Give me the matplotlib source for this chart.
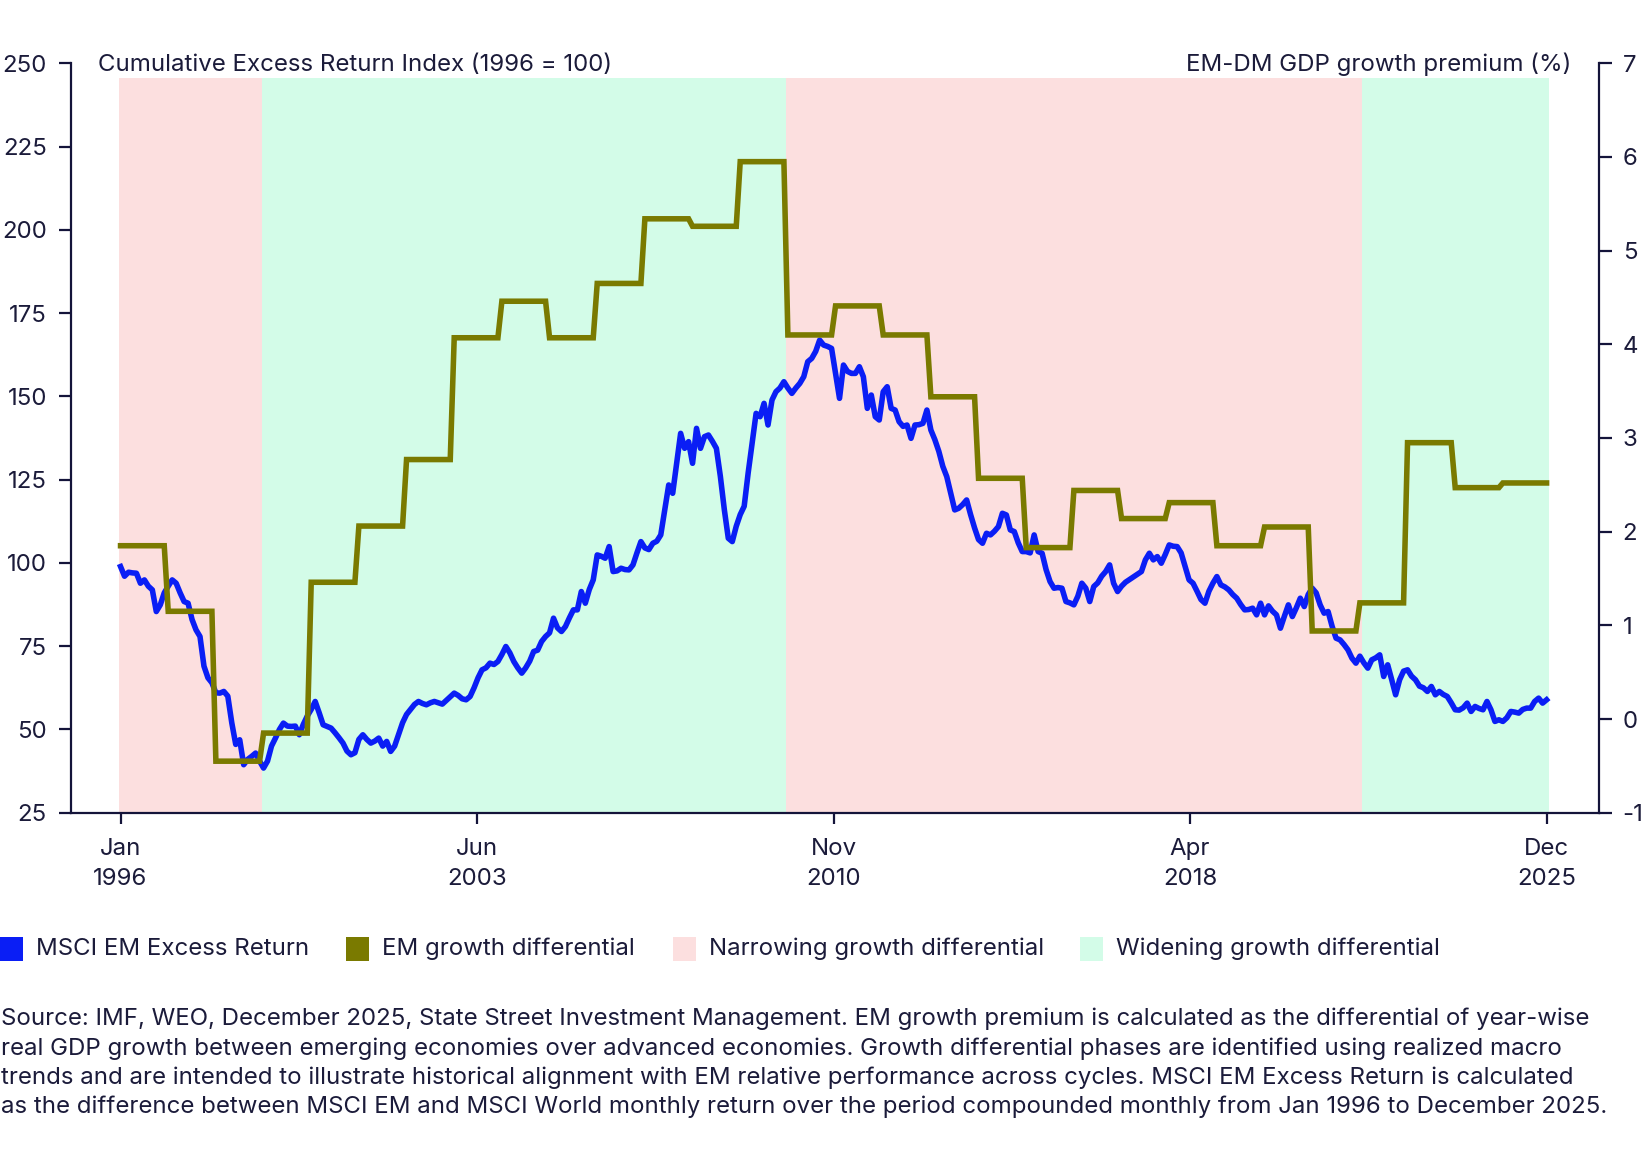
import numpy as np
import matplotlib
matplotlib.use("Agg")
import matplotlib.pyplot as plt
from matplotlib.patches import Rectangle

plt.rcParams['font.family'] = ['Inter', 'DejaVu Sans']
plt.rcParams['axes.unicode_minus'] = False

# ---------------- data ----------------
years = list(range(1996, 2026))
gdp_premium = [1.85, 1.15, -0.45, -0.15, 1.46, 2.06, 2.77, 4.07, 4.46, 4.07,
               4.65, 5.34, 5.26, 5.95, 4.10, 4.41, 4.10, 3.44, 2.57, 1.83,
               2.44, 2.14, 2.31, 1.85, 2.05, 0.94, 1.24, 2.95, 2.47, 2.52]

em_excess = [
    98.9, 96.0, 97.2, 97.0, 96.9, 93.9, 94.9, 93.0, 91.9, 85.4, 87.4, 91.0,      # 1996
    93.0, 94.9, 93.9, 91.0, 88.4, 87.9, 83.0, 79.9, 77.9, 69.0, 65.5, 64.0,      # 1997
    61.0, 60.9, 61.4, 60.0, 52.0, 45.5, 46.9, 39.4, 41.0, 41.9, 42.9, 40.5,      # 1998
    38.4, 40.5, 45.0, 47.4, 50.0, 51.9, 51.0, 50.9, 51.0, 48.4, 51.5, 54.0,      # 1999
    56.0, 58.4, 55.0, 51.4, 50.9, 50.4, 49.0, 47.5, 45.9, 43.5, 42.4, 43.0,      # 2000
    47.0, 48.4, 47.0, 45.9, 46.5, 47.4, 45.0, 46.4, 43.4, 45.0, 48.5, 52.0,      # 2001
    54.5, 56.0, 57.5, 58.4, 57.8, 57.4, 58.0, 58.4, 58.0, 57.6, 58.7, 59.8,      # 2002
    60.9, 60.2, 59.2, 58.9, 59.9, 62.5, 65.5, 67.9, 68.5, 69.9, 69.5, 70.4,      # 2003
    72.5, 74.9, 73.0, 70.4, 68.5, 66.9, 68.5, 70.5, 73.4, 73.8, 76.4, 77.9,      # 2004
    79.0, 83.4, 80.5, 79.4, 80.9, 83.5, 85.9, 85.9, 91.4, 87.9, 92.0, 94.9,      # 2005
    102.4, 102.0, 101.4, 104.9, 97.4, 97.6, 98.4, 98.0, 97.9, 99.4, 103.0, 106.4,  # 2006
    104.5, 104.0, 105.9, 106.5, 108.4, 116.0, 123.4, 120.9, 130.0, 138.9, 134.4, 136.4,  # 2007
    129.9, 140.4, 134.4, 137.9, 138.4, 136.5, 134.4, 126.0, 116.0, 107.4, 106.4, 111.0,  # 2008
    114.5, 117.0, 127.0, 136.0, 144.9, 143.9, 147.9, 141.4, 148.9, 151.4, 152.5, 154.4,  # 2009
    152.5, 150.9, 152.5, 153.9, 155.9, 160.4, 161.4, 163.5, 166.9, 165.4, 165.0, 164.4,  # 2010
    157.0, 149.4, 159.4, 157.5, 156.9, 156.9, 158.9, 155.9, 146.4, 150.4, 143.9, 142.9,  # 2011
    151.4, 152.9, 146.4, 145.9, 142.4, 141.0, 141.4, 137.4, 141.4, 141.5, 141.9, 145.9,  # 2012
    139.9, 137.0, 133.5, 129.0, 125.9, 120.9, 115.9, 116.4, 117.5, 118.9, 114.5, 110.5,  # 2013
    107.0, 105.9, 108.9, 108.4, 109.5, 110.9, 114.9, 114.4, 109.9, 109.4, 106.0, 103.4,  # 2014
    103.4, 103.0, 108.4, 103.4, 102.9, 98.0, 94.4, 92.4, 92.6, 92.4, 88.4, 88.0,   # 2015
    87.4, 90.0, 93.9, 92.4, 88.4, 92.9, 94.0, 96.0, 97.4, 99.4, 93.9, 91.4,      # 2016
    93.0, 94.2, 95.0, 95.8, 96.6, 97.4, 100.9, 102.9, 100.9, 101.9, 99.9, 102.5,  # 2017
    105.4, 105.0, 104.9, 103.0, 99.0, 94.9, 93.9, 91.5, 89.0, 87.9, 91.5, 93.9,  # 2018
    95.9, 93.4, 92.8, 91.9, 90.5, 89.4, 87.5, 85.9, 86.0, 86.4, 84.4, 87.9,      # 2019
    84.4, 87.1, 85.5, 84.4, 80.4, 84.0, 87.4, 83.9, 86.5, 89.4, 86.9, 90.5,      # 2020
    92.4, 91.0, 87.4, 84.9, 85.4, 81.0, 77.4, 76.9, 75.5, 73.9, 71.4, 69.9,      # 2021
    72.0, 70.0, 68.4, 70.9, 71.5, 72.4, 65.9, 69.4, 65.0, 60.4, 64.9, 67.5,      # 2022
    67.9, 66.0, 64.9, 63.0, 62.5, 61.4, 62.9, 60.4, 61.4, 60.5, 59.9, 58.0,      # 2023
    55.9, 55.8, 56.5, 57.9, 55.4, 56.9, 56.3, 55.9, 58.4, 55.9, 52.4, 52.9,      # 2024
    52.4, 53.5, 55.4, 55.2, 54.9, 56.0, 56.4, 56.4, 58.4, 59.4, 57.9, 58.9,      # 2025
]

# phases (month index from Jan 1996): start, end, type
phase_starts = [-0.5, 35.5, 167.5, 312.5]
phase_ends = [35.5, 167.5, 312.5, 359.5]
phase_types = ["narrow", "widen", "narrow", "widen"]

xtick_labels = ["Jan\n1996", "Jun\n2003", "Nov\n2010", "Apr\n2018", "Dec\n2025"]
left_ticks = [25, 50, 75, 100, 125, 150, 175, 200, 225, 250]
right_ticks = [-1, 0, 1, 2, 3, 4, 5, 6, 7]

# ---------------- style ----------------
BLUE = "#0A1EF5"
OLIVE = "#7A7A00"
PINK = "#FCDFDF"
GREEN = "#D3FCE8"
NAVY = "#14143A"
TXT = "#1B1B3A"
FS = 17.3

W, H = 1648, 1172
fig = plt.figure(figsize=(W / 100, H / 100), dpi=100)
left_px, right_px, top_px, bot_px = 70.5, 1599, 63.3, 812.7
ax = fig.add_axes([left_px / W, 1 - bot_px / H, (right_px - left_px) / W, (bot_px - top_px) / H])
ax2 = ax.twinx()

months = np.arange(len(em_excess))
gdp_monthly = np.repeat(gdp_premium, 12)

span_top = (bot_px - 78.3) / (bot_px - top_px)
for s, e, t in zip(phase_starts, phase_ends, phase_types):
    ax.axvspan(s, e, ymin=0, ymax=span_top, color=PINK if t == "narrow" else GREEN, lw=0, zorder=0)

ax.plot(months, em_excess, color=BLUE, lw=4.0, solid_joinstyle="round", zorder=3)
ax2.plot(months, gdp_monthly, color=OLIVE, lw=4.0, solid_joinstyle="miter", zorder=3)

ax.set_xlim(-12.6, 372.2)
ax.set_ylim(25, 250)
ax2.set_ylim(-1, 7)
ax.set_yticks(left_ticks)
ax2.set_yticks(right_ticks)
ax.set_xticks(np.linspace(0, 359, 5))
ax.set_xticklabels(xtick_labels, linespacing=1.42)

for a in (ax, ax2):
    for sp in a.spines.values():
        sp.set_visible(False)
    a.patch.set_visible(False)
ax.spines["left"].set_visible(True)
ax.spines["bottom"].set_visible(True)
ax2.spines["right"].set_visible(True)
for sp in (ax.spines["left"], ax.spines["bottom"], ax2.spines["right"]):
    sp.set_color(NAVY)
    sp.set_linewidth(1.6)

ax.tick_params(axis="y", length=9, width=1.6, color=NAVY, labelcolor=TXT, labelsize=FS, pad=8)
ax2.tick_params(axis="y", length=9, width=1.6, color=NAVY, labelcolor=TXT, labelsize=FS, pad=8)
ax.tick_params(axis="x", length=8, width=1.6, color=NAVY, labelcolor=TXT, labelsize=FS, pad=10.5)

fig.text(98 / W, 1 - 64.5 / H, "Cumulative Excess Return Index (1996 = 100)",
         ha="left", va="center", fontsize=FS, color=TXT)
fig.text(1571 / W, 1 - 64.5 / H, "EM-DM GDP growth premium (%)",
         ha="right", va="center", fontsize=FS, color=TXT)

# legend
leg_items = [("MSCI EM Excess Return", BLUE, 0), ("EM growth differential", OLIVE, 346),
             ("Narrowing growth differential", PINK, 673), ("Widening growth differential", GREEN, 1080)]
yc = 949
for label, col, x0 in leg_items:
    fig.patches.append(Rectangle((x0 / W, 1 - (yc + 12) / H), 23 / W, 24 / H,
                                 transform=fig.transFigure, color=col, lw=0))
    fig.text((x0 + 36) / W, 1 - yc / H, label, ha="left", va="center", fontsize=FS, color=TXT)

note = ("Source: IMF, WEO, December 2025, State Street Investment Management. EM growth premium is calculated as the differential of year-wise\n"
        "real GDP growth between emerging economies over advanced economies. Growth differential phases are identified using realized macro\n"
        "trends and are intended to illustrate historical alignment with EM relative performance across cycles. MSCI EM Excess Return is calculated\n"
        "as the difference between MSCI EM and MSCI World monthly return over the period compounded monthly from Jan 1996 to December 2025.")
fig.text(1 / W, 1 - 1008 / H, note, ha="left", va="top", fontsize=FS, color=TXT, linespacing=1.39)

fig.savefig("out.png", dpi=100)
